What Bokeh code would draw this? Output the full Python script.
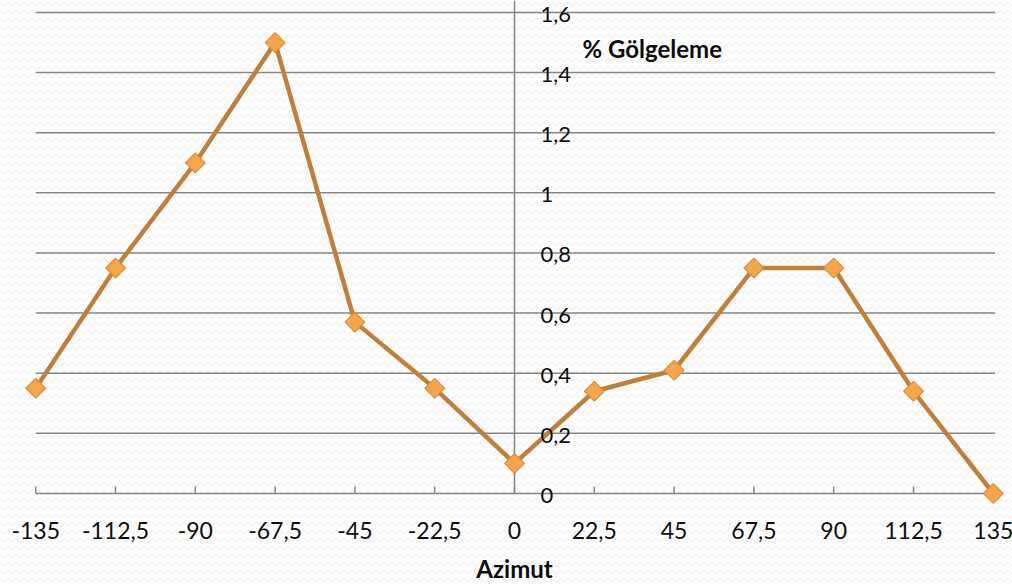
import math
from bokeh.plotting import figure
from bokeh.models import Range1d
from bokeh.core.properties import value
from bokeh.embed import file_html
from bokeh.resources import INLINE

# ---- data ----
azimut = [-135, -112.5, -90, -67.5, -45, -22.5, 0, 22.5, 45, 67.5, 90, 112.5, 135]
azimut_labels = ["-135", "-112,5", "-90", "-67,5", "-45", "-22,5", "0", "22,5", "45", "67,5", "90", "112,5", "135"]
golgeleme = [0.35, 0.75, 1.10, 1.50, 0.57, 0.35, 0.10, 0.34, 0.41, 0.75, 0.75, 0.34, 0.00]
y_ticks = [0, 0.2, 0.4, 0.6, 0.8, 1.0, 1.2, 1.4, 1.6]
y_tick_labels = ["0", "0,2", "0,4", "0,6", "0,8", "1", "1,2", "1,4", "1,6"]
y_title = "% Gölgeleme"
x_title = "Azimut"

FONT = "Lato"
W, H = 1012, 584

p = figure(width=W, height=H, output_backend="svg", toolbar_location=None,
           x_axis_type=None, y_axis_type=None, min_border=0,
           x_range=Range1d(-144.93, 140.41), y_range=Range1d(-0.3027, 1.6399))
p.outline_line_color = None
p.background_fill_color = "white"
p.border_fill_color = "white"

# faint wave texture over the whole page
p.quad(left=-1000, right=1000, bottom=-10, top=10, fill_color="white", fill_alpha=0,
       line_color=None, hatch_pattern="horizontal_wave", hatch_color="#e9e9e9",
       hatch_scale=8, hatch_weight=1)

axis_col = "#868686"
# horizontal grid lines
p.segment(x0=[azimut[0]] * len(y_ticks), x1=[azimut[-1] + 0.5] * len(y_ticks),
          y0=y_ticks, y1=y_ticks, line_color=axis_col, line_width=1.5)
# central vertical axis
p.segment(x0=[0], x1=[0], y0=[0], y1=[1.64], line_color=axis_col, line_width=1.5)
# x tick marks (inside)
p.segment(x0=azimut, x1=azimut, y0=[0] * len(azimut), y1=[0.023] * len(azimut),
          line_color=axis_col, line_width=1.5)

# series
p.line(azimut, golgeleme, line_color="#C0803A", line_width=4.5)
p.scatter(azimut, golgeleme, marker="square", size=14, angle=math.pi / 4,
          fill_color="#F5A64B", line_color="#DC8E3C", line_width=1.2)

# y tick labels (right of the central axis)
p.text(x=[0] * len(y_ticks), y=y_ticks, text=y_tick_labels, x_offset=26, y_offset=2,
       text_align="left", text_baseline="middle", text_font=value(FONT),
       text_font_size="22px", text_color="#0d0d0d")
# x tick labels
p.text(x=azimut, y=[0] * len(azimut), text=azimut_labels, y_offset=37,
       text_align="center", text_baseline="middle", text_font=value(FONT),
       text_font_size="23px", text_color="#0d0d0d")
# titles
p.text(x=[0], y=[y_ticks[-1]], text=[y_title], x_offset=68, y_offset=36,
       text_align="left", text_baseline="middle", text_font=value(FONT),
       text_font_style="bold", text_font_size="24px", text_color="#0d0d0d")
p.text(x=[0], y=[0], text=[x_title], y_offset=75,
       text_align="center", text_baseline="middle", text_font=value(FONT),
       text_font_style="bold", text_font_size="24px", text_color="#0d0d0d")

open("out.html", "w").write(file_html(p, INLINE))
